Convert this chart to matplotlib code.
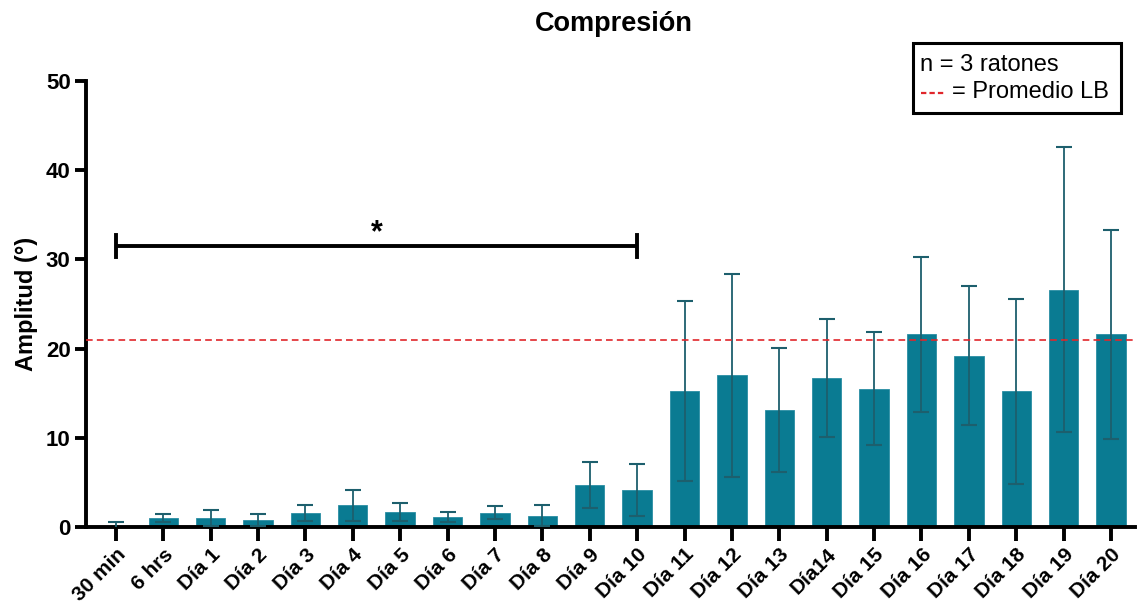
import numpy as np
import matplotlib.pyplot as plt
import matplotlib.transforms as mtransforms
from matplotlib.patches import Rectangle
from matplotlib.lines import Line2D

plt.rcParams['font.family'] = ['Liberation Sans', 'DejaVu Sans']

# datos
labels = ['30 min', '6 hrs', 'Día 1', 'Día 2', 'Día 3', 'Día 4', 'Día 5', 'Día 6',
          'Día 7', 'Día 8', 'Día 9', 'Día 10', 'Día 11', 'Día 12', 'Día 13', 'Día14',
          'Día 15', 'Día 16', 'Día 17', 'Día 18', 'Día 19', 'Día 20']
media = [0.1, 1.0, 1.0, 0.8, 1.55, 2.4, 1.65, 1.1, 1.6, 1.25, 4.7, 4.1,
         15.2, 17.0, 13.1, 16.7, 15.5, 21.6, 19.2, 15.2, 26.6, 21.6]
sd = [0.5, 0.45, 0.9, 0.65, 0.85, 1.7, 1.0, 0.6, 0.7, 1.2, 2.6, 2.9,
      10.1, 11.4, 7.0, 6.6, 6.3, 8.7, 7.8, 10.4, 16.0, 11.7]
promedio_lb = 20.9
signif_y = 31.5

bar_color = '#0a7b92'
err_color = '#1d5f6d'
red = '#e0262b'

fig = plt.figure(figsize=(11.4, 6.07), dpi=100)
ax = fig.add_axes([0.0754, 0.132, 0.92, 0.7346])

x = np.arange(len(labels))
ax.bar(x, media, width=0.62, color=bar_color, edgecolor='#2a8ea3', linewidth=0.6, zorder=2)
ax.errorbar(x, media, yerr=sd, fmt='none', ecolor=err_color, elinewidth=1.3,
            capsize=5.5, capthick=1.5, zorder=3)

ax.axhline(promedio_lb, color=red, linestyle=(0, (4, 2.5)), linewidth=1.2, zorder=4)

# barra de significancia
ax.plot([0, 11], [signif_y, signif_y], color='black', lw=2.8, solid_capstyle='butt')
ax.plot([0, 0], [signif_y - 1.25, signif_y + 1.25], color='black', lw=2.8)
ax.plot([11, 11], [signif_y - 1.25, signif_y + 1.25], color='black', lw=2.8)
ax.text(5.5, signif_y - 0.3, '*', ha='center', va='bottom', fontsize=22, fontweight='bold')

ax.set_xlim(-0.63, 21.5)
ax.set_ylim(0, 50)
ax.set_yticks([0, 10, 20, 30, 40, 50])
ax.set_xticks(x)
ax.set_xticklabels(labels, rotation=45, ha='right', rotation_mode='anchor',
                   fontsize=15, fontweight='bold')
shift = mtransforms.ScaledTranslation(0.05, 0, fig.dpi_scale_trans)
for t in ax.get_xticklabels():
    t.set_transform(t.get_transform() + shift)
for t in ax.get_yticklabels():
    t.set_fontweight('bold')
    t.set_fontsize(16)
ax.tick_params(axis='y', length=8, width=2.8, pad=3)
ax.tick_params(axis='x', length=10, width=2.8, pad=3)
ax.spines['top'].set_visible(False)
ax.spines['right'].set_visible(False)
ax.spines['left'].set_linewidth(2.8)
ax.spines['bottom'].set_linewidth(2.8)
ax.set_ylabel('Amplitud (°)', fontsize=17, fontweight='bold', labelpad=6)

fig.text(0.538, 0.960, 'Compresión', ha='center', va='center', fontsize=19.5, fontweight='bold')

# cuadro de leyenda
fig.patches.append(Rectangle((0.801, 0.814), 0.182, 0.115, transform=fig.transFigure,
                             fill=False, edgecolor='black', linewidth=2.2))
fig.text(0.807, 0.893, 'n = 3 ratones', ha='left', va='center', fontsize=17)
fig.lines.append(Line2D([0.808, 0.829], [0.847, 0.847], transform=fig.transFigure,
                        color=red, lw=1.6, linestyle=(0, (2.4, 1.4))))
fig.text(0.835, 0.848, '= Promedio LB', ha='left', va='center', fontsize=17)

fig.savefig('out.png', dpi=100)
